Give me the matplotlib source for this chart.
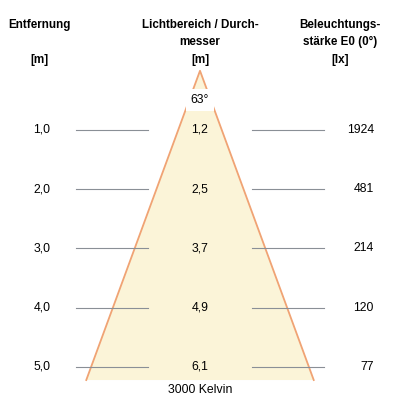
import numpy as np
import matplotlib.pyplot as plt

# Daten aus dem Diagramm
entfernung = [1.0, 2.0, 3.0, 4.0, 5.0]
durchmesser = [1.2, 2.5, 3.7, 4.9, 6.1]
lux = [1924, 481, 214, 120, 77]
winkel = 63
farbtemp = "3000 Kelvin"


def de(v):
    return f"{v:.1f}".replace(".", ",")


def py(p):
    # Pixelzeile -> Entfernung in m
    return 1 + (p - 130) / 59.25


plt.rcParams['font.family'] = ['Liberation Sans', 'DejaVu Sans']

fig = plt.figure(figsize=(4, 4), dpi=100)
ax = fig.add_axes([0, 0, 1, 1])
# x in Pixeln, y in Metern Entfernung
ax.set_xlim(0, 400)
ax.set_ylim(py(400), py(0))
ax.axis('off')

# Lichtkegel
scale = 59.25 * 114 / 310 / np.tan(np.radians(winkel / 2))
d_end = 5.22
hw = np.tan(np.radians(winkel / 2)) * d_end * scale
ax.fill([200, 200 - hw, 200 + hw], [0, d_end, d_end], color='#fbf4d8', lw=0, zorder=1)
ax.plot([200 - hw, 200, 200 + hw], [d_end, 0, d_end], color='#f0a374', lw=1.3, zorder=2)

# Hilfslinien
for d in entfernung:
    ax.plot([76, 148], [d, d], color='#8a8f96', lw=0.8, zorder=3)
    ax.plot([252, 324], [d, d], color='#8a8f96', lw=0.8, zorder=3)

fs = 8.8
for d, dm, lx in zip(entfernung, durchmesser, lux):
    ax.text(42, d, de(d), ha='center', va='center', fontsize=fs)
    ax.text(200, d, de(dm), ha='center', va='center', fontsize=fs, zorder=4)
    ax.text(374, d, str(lx), ha='right', va='center', fontsize=fs)

ax.text(200, py(100), f"{winkel}°", ha='center', va='center', fontsize=fs, zorder=5,
        bbox=dict(boxstyle='square,pad=0.4', fc='white', ec='none'))

ax.text(200, py(390), farbtemp, ha='center', va='center', fontsize=fs)

# Kopfzeile
hfs = 8.4
kw = dict(ha='center', va='center', fontsize=hfs, fontweight='bold')
ax.text(39, py(25), "Entfernung", **kw)
ax.text(39, py(60), "[m]", **kw)
ax.text(200, py(25), "Lichtbereich / Durch-", **kw)
ax.text(200, py(42), "messer", **kw)
ax.text(200, py(60), "[m]", **kw)
ax.text(340, py(25), "Beleuchtungs-", **kw)
ax.text(340, py(42), "stärke E0 (0°)", **kw)
ax.text(340, py(60), "[lx]", **kw)

fig.savefig("out.png", dpi=100)
